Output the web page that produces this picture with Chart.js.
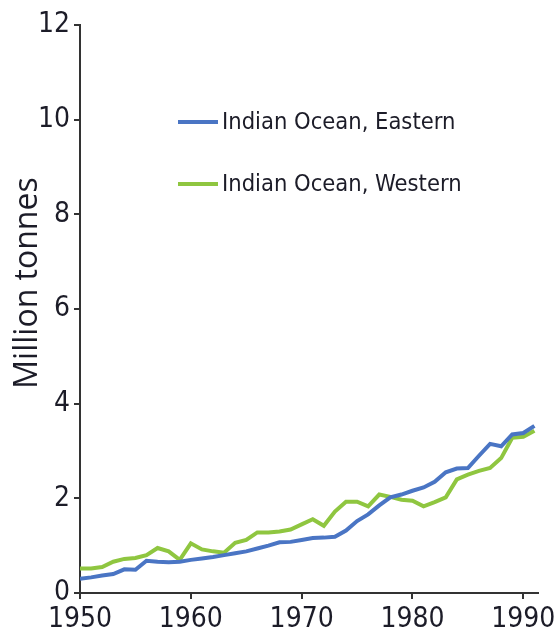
<!DOCTYPE html>
<html>
<head>
<meta charset="utf-8">
<script src="https://cdn.jsdelivr.net/npm/chart.js@4.4.0/dist/chart.umd.min.js"></script>
<style>
  html, body { margin: 0; padding: 0; background: #fff; }
  #wrap { width: 560px; height: 643px; }
</style>
</head>
<body>
<div id="wrap"><canvas id="chart"></canvas></div>
<script>
// Data
const years = [1950, 1951, 1952, 1953, 1954, 1955, 1956, 1957, 1958, 1959,
               1960, 1961, 1962, 1963, 1964, 1965, 1966, 1967, 1968, 1969,
               1970, 1971, 1972, 1973, 1974, 1975, 1976, 1977, 1978, 1979,
               1980, 1981, 1982, 1983, 1984, 1985, 1986, 1987, 1988, 1989,
               1990, 1991];
const eastern = [0.30, 0.33, 0.37, 0.40, 0.50, 0.49, 0.68, 0.66, 0.65, 0.66,
                 0.70, 0.73, 0.76, 0.80, 0.84, 0.88, 0.94, 1.00, 1.07, 1.08,
                 1.12, 1.16, 1.17, 1.19, 1.32, 1.52, 1.66, 1.85, 2.02, 2.08,
                 2.16, 2.23, 2.35, 2.55, 2.63, 2.64, 2.90, 3.15, 3.10, 3.35,
                 3.38, 3.53];
const western = [0.52, 0.52, 0.55, 0.66, 0.72, 0.74, 0.80, 0.95, 0.88, 0.70,
                 1.05, 0.92, 0.88, 0.85, 1.06, 1.12, 1.28, 1.28, 1.30, 1.34,
                 1.45, 1.56, 1.42, 1.72, 1.93, 1.93, 1.83, 2.08, 2.03, 1.97,
                 1.95, 1.83, 1.92, 2.02, 2.40, 2.50, 2.58, 2.64, 2.85, 3.28,
                 3.30, 3.43];
const seriesNames = ['Indian Ocean, Eastern', 'Indian Ocean, Western'];
const yTitle = 'Million tonnes';
const xTicks = [1950, 1960, 1970, 1980, 1990];
const yTicks = [0, 2, 4, 6, 8, 10, 12];

const blue = '#4a75c4';
const green = '#8fc640';
const ink = '#1c1c28';
const narrow = '"DejaVu Sans Condensed", "Liberation Sans Narrow", sans-serif';
const font = '"Open Sans", sans-serif';

// Legend inside the plot area + y axis title (placed a bit above centre, like the original)
const extras = {
    id: 'extras',
    afterDraw(chart) {
        const ctx = chart.ctx;
        const area = chart.chartArea;
        ctx.save();
        ctx.font = '23.5px ' + narrow;
        ctx.textBaseline = 'middle';
        chart.data.datasets.forEach((ds, i) => {
            const y = area.top + 97 + i * 62;
            const x = area.left + 98;
            ctx.strokeStyle = ds.borderColor;
            ctx.lineWidth = 4;
            ctx.beginPath();
            ctx.moveTo(x, y);
            ctx.lineTo(x + 40, y);
            ctx.stroke();
            ctx.fillStyle = ink;
            ctx.fillText(ds.label, x + 44, y + 1);
        });
        ctx.restore();

        ctx.save();
        ctx.translate(28, 283);
        ctx.rotate(-Math.PI / 2);
        ctx.font = '32px ' + font;
        ctx.textAlign = 'center';
        ctx.textBaseline = 'middle';
        ctx.fillStyle = ink;
        ctx.fillText(yTitle, 0, 0);
        ctx.restore();
    }
};

const toPoints = vals => vals.map((v, i) => ({ x: years[i], y: v }));

new Chart(document.getElementById('chart'), {
    type: 'line',
    data: {
        datasets: [
            {
                label: seriesNames[0],
                data: toPoints(eastern),
                borderColor: blue,
                borderWidth: 4,
                pointRadius: 0,
                tension: 0
            },
            {
                label: seriesNames[1],
                data: toPoints(western),
                borderColor: green,
                borderWidth: 4,
                pointRadius: 0,
                tension: 0
            }
        ]
    },
    options: {
        responsive: true,
        maintainAspectRatio: false,
        animation: false,
        layout: { padding: { top: 25, right: 20, bottom: 0, left: 0 } },
        plugins: {
            legend: { display: false },
            tooltip: { enabled: false }
        },
        scales: {
            x: {
                type: 'linear',
                min: 1950,
                max: 1991.3,
                afterBuildTicks: s => { s.ticks = xTicks.map(v => ({ value: v })); },
                afterFit: s => { s.height = 50; },
                ticks: {
                    color: ink,
                    font: { family: narrow, size: 28 },
                    padding: 4,
                    maxRotation: 0,
                    callback: v => String(v)
                },
                grid: { drawOnChartArea: false, drawTicks: true, tickLength: 6, color: '#333', lineWidth: 2 },
                border: { color: '#333', width: 2 }
            },
            y: {
                min: 0,
                max: 12,
                afterBuildTicks: s => { s.ticks = yTicks.map(v => ({ value: v })); },
                afterFit: s => { s.width = 80; },
                ticks: {
                    color: ink,
                    font: { family: narrow, size: 28 },
                    padding: 4
                },
                grid: { drawOnChartArea: false, drawTicks: true, tickLength: 6, color: '#333', lineWidth: 2 },
                border: { color: '#333', width: 2 }
            }
        }
    },
    plugins: [extras]
});
</script>
</body>
</html>
